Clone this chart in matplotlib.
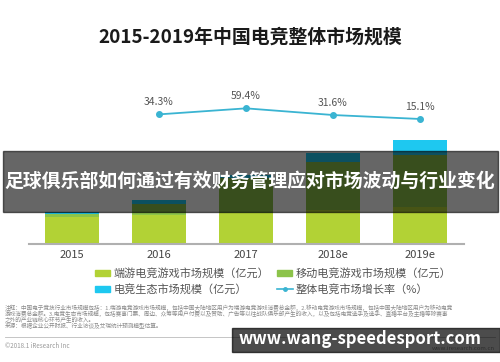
import matplotlib
matplotlib.use("Agg")
import matplotlib.pyplot as plt
from matplotlib.patches import Rectangle
from matplotlib.lines import Line2D

plt.rcParams['font.family'] = ['Noto Sans CJK SC', 'DejaVu Sans']

years = ['2015', '2016', '2017', '2018e', '2019e']
pc_game = [258, 277, 296, 324, 353]
mobile_game = [29, 105, 334, 458, 496]
ecosystem = [19, 38, 29, 86, 143]
growth_years = ['2016', '2017', '2018e', '2019e']
growth = [34.3, 59.4, 31.6, 15.1]
growth_labels = ['34.3%', '59.4%', '31.6%', '15.1%']
legend_labels = ['端游电竞游戏市场规模（亿元）', '移动电竞游戏市场规模（亿元）',
                 '电竞生态市场规模（亿元）', '整体电竞市场增长率（%）']
title = '2015-2019年中国电竞整体市场规模'
overlay_text = '足球俱乐部如何通过有效财务管理应对市场波动与行业变化'
watermark = 'www.wang-speedesport.com'

c_pc = '#b2d235'
c_mob = '#8cc34a'
c_eco = '#1ec8f0'
c_line = '#3ab4d2'

W, H = 500, 362
fig = plt.figure(figsize=(5, 3.62), dpi=100)
fig.patch.set_facecolor('white')

def fx(p):
    return p / W

def fy(p):
    return 1 - p / H

# bars axes
ax = fig.add_axes([fx(28.5), fy(244), fx(435), 104.8 / H])
x = list(range(len(years)))
bw = 0.62
ax.bar(x, pc_game, bw, color=c_pc, zorder=2)
ax.bar(x, mobile_game, bw, bottom=pc_game, color=c_mob, zorder=2)
bottoms = [a + b for a, b in zip(pc_game, mobile_game)]
ax.bar(x, ecosystem, bw, bottom=bottoms, color=c_eco, zorder=2)
ax.set_xlim(-0.5, 4.5)
ax.set_ylim(0, 1000)
for s in ['top', 'right', 'left']:
    ax.spines[s].set_visible(False)
ax.spines['bottom'].set_color('#b0b0b0')
ax.spines['bottom'].set_linewidth(1.5)
ax.set_yticks([])
ax.set_xticks(x)
ax.set_xticklabels(years, fontsize=8, color='#444444')
ax.tick_params(axis='x', length=0, pad=4)
ax.patch.set_alpha(0)

# growth line axes
ax2 = fig.add_axes([fx(28.5), fy(125), fx(435), 25 / H])
gx = [years.index(g) for g in growth_years]
ax2.plot(gx, growth, color=c_line, lw=1.3, marker='o', ms=4, zorder=3)
for xi, v, lab in zip(gx, growth, growth_labels):
    ax2.annotate(lab, (xi, v), xytext=(0, 5), textcoords='offset points',
                 ha='center', va='bottom', fontsize=7.5, color='#555555')
ax2.set_xlim(-0.5, 4.5)
ax2.set_ylim(-10, 94.2)
ax2.axis('off')

# title
fig.text(0.5, fy(37), title, ha='center', va='center', fontsize=13.6,
         fontweight='bold', color='#1a1a1a')

# legend
legend_pos = [(95, 273), (277, 273), (95, 289), (277, 289)]
legend_colors = [c_pc, c_mob, c_eco, c_line]
for i, (lab, (lx, ly), col) in enumerate(zip(legend_labels, legend_pos, legend_colors)):
    if i < 3:
        fig.patches.append(Rectangle((fx(lx), fy(ly + 3)), fx(15), 6 / H,
                                     transform=fig.transFigure, color=col))
    else:
        fig.lines.append(Line2D([fx(lx), fx(lx + 16)], [fy(ly), fy(ly)],
                                transform=fig.transFigure, color=col, lw=1.2))
        fig.lines.append(Line2D([fx(lx + 8)], [fy(ly)], transform=fig.transFigure,
                                color=col, marker='o', ms=2.5))
    fig.text(fx(lx + 19), fy(ly), lab, ha='left', va='center', fontsize=8,
             color='#555555')

# footnote
foot = [
    '注释：中国电子竞技行业市场规模包括：1.端游电竞游戏市场规模，包括中国大陆地区用户为端游电竞游戏消费总金额，2.移动电竞游戏市场规模，包括中国大陆地区用户为移动电竞',
    '游戏消费总金额。3.电竞生态市场规模，包括赛事门票、周边、众筹等用户付费以及赞助、广告等以往战队俱乐部产生的收入，以及包括电竞选手及选手、直播平台及主播等除赛事',
    '之外的产业链核心环节产生的收入。',
    '来源：根据企业公开财报、行业访谈及艾瑞统计预测模型估算。',
]
for i, t in enumerate(foot):
    fig.text(fx(5), fy(308 + 6 * i), t, ha='left', va='center', fontsize=4.1,
             color='#8a8a8a')
fig.lines.append(Line2D([fx(5), fx(495)], [fy(337), fy(337)],
                        transform=fig.transFigure, color='#bbbbbb', lw=0.6))
fig.text(fx(5), fy(346), '©2018.1 iResearch Inc', ha='left', va='center',
         fontsize=4.5, color='#999999')
fig.text(fx(495), fy(348), 'www.iresearch.com.cn', ha='right', va='center',
         fontsize=4.3, color='#999999')

# overlay band
fig.patches.append(Rectangle((fx(3), fy(212)), fx(495), 61 / H,
                             transform=fig.transFigure, color='black',
                             alpha=0.6, zorder=10))
fig.text(0.5, fy(181), overlay_text, ha='center', va='center', fontsize=13.6,
         fontweight='bold', color='white', zorder=11)

# watermark box
fig.patches.append(Rectangle((fx(232), fy(352)), fx(268), 24 / H,
                             transform=fig.transFigure, color='black',
                             alpha=0.7, zorder=10))
fig.text(fx(360), fy(339), watermark, ha='center', va='center', fontsize=12,
         fontweight='bold', color='white', zorder=11)

fig.savefig('out.png', dpi=100)
